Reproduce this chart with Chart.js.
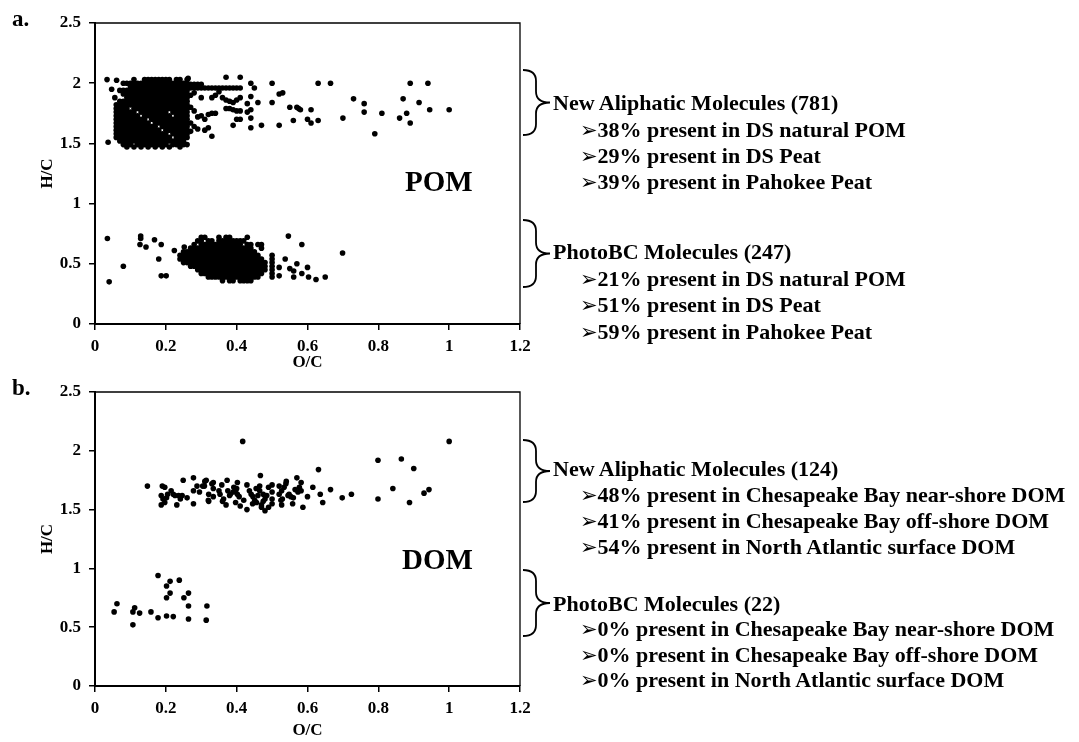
<!DOCTYPE html>
<html lang="en">
<head>
<meta charset="UTF-8" />
<title>New aliphatic and photoBC molecules - POM / DOM</title>
<style>
  body {
    margin: 0;
    width: 1079px;
    height: 742px;
    overflow: hidden;
    position: relative;
    background: #fff;
    color: #000;
    font-family: 'Liberation Serif', 'Times New Roman', serif;
    font-weight: bold;
  }
  canvas { position: absolute; left: 0; }
  #chartA { top: 0; }
  #chartB { top: 370px; }
  .lbl { position: absolute; white-space: nowrap; }
  .panel { font-size: 23px; line-height: 22px; }
  .big { font-size: 29px; line-height: 30px; }
  .note { font-size: 22px; line-height: 26px; }
  .arrow { font-family: 'DejaVu Sans', sans-serif; font-size: 21px; }
</style>
</head>
<body>
<canvas id="chartA" width="1079" height="380"></canvas>
<canvas id="chartB" width="1079" height="378"></canvas>
<div id="labels"></div>

<script src="https://cdn.jsdelivr.net/npm/chart.js"></script>
<script>
  // axes
  const xTicks = [0, 0.2, 0.4, 0.6, 0.8, 1, 1.2];
  const yTicks = [0, 0.5, 1, 1.5, 2, 2.5];

  // a. POM - new aliphatic molecules, dense block read as rows [H/C, [O/C ...]]
  const pomAliphaticRows = [
    [2.03, [0.11,0.14,0.15,0.16,0.17,0.18,0.19,0.20,0.21,0.23,0.24,0.26]],
    [2.00, [0.08,0.09,0.10,0.11,0.12,0.13,0.14,0.15,0.16,0.17,0.18,0.19,0.20,0.21,0.22,0.23,0.24,0.25,0.26]],
    [1.97, [0.10,0.11,0.12,0.13,0.14,0.15,0.16,0.17,0.18,0.19,0.20,0.21,0.22,0.23,0.24,0.25,0.26]],
    [1.94, [0.07,0.08,0.09,0.10,0.11,0.12,0.13,0.14,0.15,0.16,0.17,0.18,0.19,0.20,0.21,0.22,0.23,0.24,0.25,0.26]],
    [1.91, [0.08,0.09,0.10,0.11,0.12,0.13,0.14,0.15,0.16,0.17,0.18,0.19,0.20,0.21,0.22,0.23,0.24,0.25,0.26]],
    [1.88, [0.09,0.10,0.11,0.12,0.13,0.14,0.15,0.16,0.17,0.18,0.19,0.20,0.21,0.22,0.23,0.24,0.25,0.26]],
    [1.85, [0.07,0.08,0.09,0.10,0.11,0.12,0.13,0.14,0.15,0.16,0.17,0.18,0.19,0.20,0.21,0.22,0.23,0.24,0.25,0.26]],
    [1.82, [0.06,0.07,0.08,0.09,0.10,0.11,0.12,0.13,0.14,0.15,0.16,0.17,0.18,0.19,0.20,0.21,0.22,0.23,0.24,0.25,0.26]],
    [1.79, [0.06,0.07,0.08,0.09,0.11,0.12,0.13,0.14,0.15,0.16,0.17,0.18,0.19,0.20,0.21,0.22,0.23,0.24,0.25,0.26]],
    [1.76, [0.06,0.07,0.08,0.09,0.10,0.11,0.13,0.14,0.15,0.16,0.17,0.18,0.19,0.20,0.22,0.23,0.24,0.25,0.26]],
    [1.73, [0.06,0.07,0.08,0.09,0.10,0.11,0.12,0.14,0.15,0.16,0.17,0.18,0.19,0.20,0.21,0.23,0.24,0.25,0.26]],
    [1.70, [0.06,0.07,0.08,0.09,0.10,0.11,0.12,0.13,0.14,0.16,0.17,0.18,0.19,0.20,0.21,0.22,0.23,0.24,0.25,0.26]],
    [1.67, [0.06,0.07,0.08,0.09,0.10,0.11,0.12,0.13,0.14,0.15,0.17,0.18,0.19,0.20,0.21,0.22,0.23,0.24,0.25,0.26]],
    [1.64, [0.06,0.07,0.08,0.09,0.10,0.11,0.12,0.13,0.14,0.15,0.16,0.17,0.19,0.20,0.21,0.22,0.23,0.24,0.25,0.26]],
    [1.61, [0.06,0.07,0.08,0.09,0.10,0.11,0.12,0.13,0.14,0.15,0.16,0.17,0.18,0.20,0.21,0.22,0.23,0.24,0.25,0.26]],
    [1.58, [0.06,0.07,0.08,0.09,0.10,0.11,0.12,0.13,0.14,0.15,0.16,0.17,0.18,0.19,0.20,0.22,0.23,0.24,0.25,0.26]],
    [1.55, [0.06,0.07,0.08,0.09,0.10,0.11,0.12,0.13,0.14,0.15,0.16,0.17,0.18,0.19,0.20,0.21,0.23,0.24,0.25,0.26]],
    [1.52, [0.07,0.08,0.09,0.10,0.11,0.12,0.13,0.14,0.15,0.16,0.17,0.18,0.19,0.20,0.21,0.22,0.23,0.24,0.25]],
    [1.49, [0.08,0.09,0.10,0.12,0.13,0.14,0.15,0.16,0.17,0.18,0.19,0.20,0.22,0.23,0.24,0.25]],
    [1.47, [0.09,0.11,0.13,0.15,0.17,0.19,0.21,0.24]]
  ];
  // a. POM - new aliphatic molecules, scattered [O/C, H/C]
  const pomAliphaticPts = [
    [0.034,2.03],[0.061,2.025],[0.047,1.95],[0.056,1.88],[0.037,1.51],[0.263,2.04],
    [0.27,1.99],[0.28,1.99],[0.29,1.99],[0.30,1.99],
    [0.27,1.96],[0.28,1.96],[0.29,1.96],[0.30,1.96],[0.31,1.96],[0.32,1.96],[0.33,1.96],[0.34,1.96],
    [0.35,1.96],[0.36,1.96],[0.37,1.96],[0.38,1.96],[0.39,1.96],[0.40,1.96],[0.41,1.96],
    [0.27,1.90],[0.28,1.92],[0.30,1.88],[0.33,1.88],[0.34,1.90],[0.35,1.93],[0.36,1.88],
    [0.37,1.86],[0.38,1.85],[0.39,1.84],[0.40,1.86],[0.41,1.88],
    [0.27,1.80],[0.28,1.77],[0.29,1.72],[0.30,1.73],[0.31,1.70],[0.32,1.74],[0.33,1.75],[0.34,1.75],
    [0.37,1.79],[0.38,1.79],[0.39,1.78],[0.40,1.77],[0.41,1.77],[0.40,1.70],[0.41,1.70],[0.39,1.65],
    [0.27,1.67],[0.28,1.64],[0.29,1.62],[0.27,1.60],[0.31,1.61],[0.32,1.63],[0.33,1.56],[0.26,1.49],[0.25,1.51],
    [0.37,2.05],[0.41,2.05],[0.44,2.00],[0.45,1.96],[0.44,1.89],[0.43,1.83],[0.44,1.78],[0.43,1.76],
    [0.44,1.71],[0.44,1.63],[0.46,1.84],[0.47,1.65],[0.50,2.00],[0.50,1.84],[0.52,1.91],[0.53,1.92],
    [0.52,1.65],[0.55,1.80],[0.57,1.80],[0.575,1.79],[0.58,1.78],[0.56,1.69],[0.60,1.70],[0.61,1.78],
    [0.61,1.67],[0.63,2.00],[0.63,1.69],[0.665,2.00],[0.70,1.71],[0.73,1.87],[0.76,1.83],[0.76,1.76],
    [0.79,1.58],[0.81,1.75],[0.86,1.71],[0.87,1.87],[0.88,1.75],[0.89,2.00],[0.89,1.67],[0.915,1.84],
    [0.94,2.00],[0.945,1.78],[1.00,1.78]
  ];

  // a. POM - photoBC molecules, dense block rows [H/C, [O/C ...]]
  const pomPhotoRows = [
    [0.72, [0.30,0.31,0.35,0.37,0.38,0.43]],
    [0.69, [0.29,0.30,0.32,0.33,0.35,0.36,0.37,0.38,0.39,0.40,0.41,0.42]],
    [0.66, [0.28,0.30,0.31,0.32,0.33,0.34,0.35,0.36,0.37,0.38,0.39,0.40,0.41,0.43,0.44,0.46]],
    [0.63, [0.27,0.28,0.29,0.30,0.31,0.32,0.33,0.34,0.35,0.36,0.37,0.38,0.39,0.40,0.41,0.42,0.43,0.44,0.47]],
    [0.60, [0.25,0.26,0.27,0.28,0.29,0.30,0.31,0.32,0.33,0.34,0.35,0.36,0.37,0.38,0.39,0.40,0.41,0.42,0.43,0.44,0.45]],
    [0.57, [0.24,0.25,0.26,0.27,0.28,0.29,0.30,0.31,0.32,0.33,0.34,0.35,0.36,0.37,0.38,0.39,0.40,0.41,0.42,0.43,0.44,0.45,0.46]],
    [0.54, [0.24,0.25,0.26,0.27,0.28,0.29,0.30,0.31,0.32,0.33,0.34,0.35,0.36,0.37,0.38,0.39,0.40,0.41,0.42,0.43,0.44,0.45,0.46,0.47]],
    [0.51, [0.25,0.26,0.27,0.28,0.29,0.30,0.31,0.32,0.33,0.34,0.35,0.36,0.37,0.38,0.39,0.40,0.41,0.42,0.43,0.44,0.45,0.46,0.47,0.48]],
    [0.48, [0.27,0.28,0.29,0.30,0.31,0.32,0.33,0.34,0.35,0.36,0.37,0.38,0.39,0.40,0.41,0.42,0.43,0.44,0.45,0.46,0.47,0.48]],
    [0.45, [0.29,0.30,0.31,0.32,0.33,0.34,0.35,0.36,0.37,0.38,0.39,0.40,0.41,0.42,0.43,0.44,0.45,0.46,0.47,0.48]],
    [0.42, [0.30,0.31,0.32,0.33,0.34,0.35,0.36,0.37,0.38,0.39,0.40,0.41,0.42,0.43,0.44,0.45,0.46,0.47]],
    [0.39, [0.32,0.33,0.34,0.35,0.36,0.37,0.38,0.39,0.40,0.41,0.42,0.43,0.44,0.45,0.46]],
    [0.36, [0.36,0.38,0.39,0.41,0.42,0.43,0.44]]
  ];
  const pomPhotoPts = [
    [0.035,0.71],[0.04,0.35],[0.08,0.48],[0.129,0.73],[0.129,0.71],[0.127,0.66],[0.144,0.64],
    [0.168,0.70],[0.18,0.54],[0.187,0.66],[0.187,0.40],[0.201,0.40],[0.224,0.61],[0.252,0.64],
    [0.50,0.39],[0.50,0.42],[0.50,0.45],[0.50,0.48],[0.50,0.51],[0.50,0.54],[0.50,0.57],
    [0.52,0.47],[0.52,0.40],[0.537,0.54],[0.55,0.46],[0.561,0.44],[0.561,0.39],[0.57,0.50],
    [0.584,0.42],[0.60,0.47],[0.603,0.39],[0.624,0.37],[0.65,0.39],
    [0.546,0.73],[0.584,0.66],[0.699,0.59],[0.47,0.66],[0.46,0.55]
  ];

  // b. DOM - new aliphatic molecules [O/C, H/C]
  const domAliphaticPts = [
    [0.148,1.70],[0.19,1.70],[0.197,1.69],[0.187,1.62],[0.192,1.59],[0.197,1.56],[0.187,1.54],[0.202,1.60],
    [0.221,1.63],[0.226,1.62],[0.236,1.62],[0.241,1.59],[0.231,1.54],[0.249,1.75],[0.246,1.62],[0.26,1.60],
    [0.215,1.66],[0.205,1.63],
    [0.278,1.77],[0.278,1.66],[0.278,1.55],[0.288,1.70],[0.295,1.65],[0.304,1.70],[0.309,1.70],[0.31,1.74],
    [0.314,1.75],[0.321,1.63],[0.321,1.57],[0.32,1.58],[0.33,1.72],[0.334,1.73],[0.334,1.68],[0.334,1.61],
    [0.35,1.66],[0.358,1.71],[0.353,1.63],[0.36,1.57],[0.363,1.59],[0.373,1.75],[0.37,1.54],[0.375,1.66],
    [0.38,1.62],[0.382,1.63],[0.39,1.65],[0.392,1.69],[0.397,1.66],[0.40,1.68],[0.402,1.63],[0.407,1.61],
    [0.402,1.73],[0.397,1.56],[0.417,2.08],[0.42,1.58],[0.41,1.53],
    [0.429,1.71],[0.436,1.66],[0.441,1.63],[0.446,1.61],[0.429,1.50],[0.445,1.55],[0.451,1.58],[0.456,1.56],
    [0.455,1.68],[0.46,1.62],[0.467,1.79],[0.465,1.70],[0.465,1.66],[0.47,1.54],[0.47,1.52],[0.48,1.49],
    [0.48,1.59],[0.475,1.63],[0.475,1.57],[0.485,1.62],[0.49,1.52],[0.49,1.69],
    [0.50,1.71],[0.50,1.65],[0.50,1.59],[0.50,1.55],[0.52,1.63],[0.52,1.70],[0.525,1.58],[0.527,1.66],
    [0.527,1.54],[0.529,1.59],[0.534,1.69],[0.539,1.72],[0.54,1.74],[0.545,1.62],[0.548,1.63],[0.553,1.61],
    [0.558,1.55],[0.56,1.60],[0.565,1.67],[0.57,1.77],[0.573,1.65],[0.577,1.69],[0.582,1.73],[0.582,1.66],
    [0.587,1.52],[0.60,1.61],[0.615,1.69],[0.631,1.84],[0.636,1.63],[0.643,1.56],[0.665,1.67],[0.698,1.60],
    [0.724,1.63],[0.799,1.92],[0.799,1.59],[0.841,1.68],[0.865,1.93],[0.888,1.56],[0.90,1.85],[0.929,1.64],
    [0.943,1.67],[1.00,2.08]
  ];
  // b. DOM - photoBC molecules (22)
  const domPhotoPts = [
    [0.054,0.63],[0.062,0.70],[0.107,0.63],[0.112,0.665],[0.126,0.62],[0.107,0.52],[0.158,0.63],
    [0.178,0.94],[0.178,0.58],[0.202,0.85],[0.202,0.75],[0.202,0.595],[0.212,0.89],[0.212,0.79],
    [0.221,0.59],[0.238,0.90],[0.251,0.75],[0.264,0.79],[0.264,0.68],[0.264,0.57],[0.316,0.68],[0.314,0.56]
  ];

  // side notes
  const pomAliphaticNote = ['New Aliphatic Molecules (781)', '38% present in DS natural POM', '29% present in DS Peat', '39% present in Pahokee Peat'];
  const pomPhotoNote = ['PhotoBC Molecules (247)', '21% present in DS natural POM', '51% present in DS Peat', '59% present in Pahokee Peat'];
  const domAliphaticNote = ['New Aliphatic Molecules (124)', '48% present in Chesapeake Bay near-shore DOM', '41% present in Chesapeake Bay off-shore DOM', '54% present in North Atlantic surface DOM'];
  const domPhotoNote = ['PhotoBC Molecules (22)', '0% present in Chesapeake Bay near-shore DOM', '0% present in Chesapeake Bay off-shore DOM', '0% present in North Atlantic surface DOM'];

  const FONT = "'Liberation Serif', 'Times New Roman', serif";

  const fromRows = rows => rows.flatMap(([y, xs]) => xs.map(x => ({ x, y })));
  const fromPairs = pts => pts.map(([x, y]) => ({ x, y }));

  function drawBrace(ctx, x0, top, bot) {
    const xm = x0 + 13, xt = x0 + 27, mid = (top + bot) / 2, r = 11;
    ctx.beginPath();
    ctx.moveTo(x0, top);
    ctx.quadraticCurveTo(xm, top, xm, top + r);
    ctx.lineTo(xm, mid - r);
    ctx.quadraticCurveTo(xm, mid, xt, mid);
    ctx.quadraticCurveTo(xm, mid, xm, mid + r);
    ctx.lineTo(xm, bot - r);
    ctx.quadraticCurveTo(xm, bot, x0, bot);
    ctx.stroke();
  }

  // thin top/right frame + the braces to the right of the plot
  const framePlugin = {
    id: 'frame',
    afterDraw(chart, args, opts) {
      const { ctx, chartArea: a } = chart;
      ctx.save();
      ctx.strokeStyle = '#000';
      ctx.lineWidth = 1.3;
      ctx.beginPath();
      ctx.moveTo(a.left, a.top);
      ctx.lineTo(a.right, a.top);
      ctx.lineTo(a.right, a.bottom);
      ctx.stroke();
      ctx.lineWidth = 1.8;
      (opts.braces || []).forEach(([t, b]) => drawBrace(ctx, a.right + 3, t, b));
      ctx.restore();
    }
  };

  function axis(ticks, title, fit) {
    return {
      type: 'linear',
      min: ticks[0],
      max: ticks[ticks.length - 1],
      afterBuildTicks: s => { s.ticks = ticks.map(v => ({ value: v })); },
      afterFit: fit,
      ticks: {
        color: '#000',
        font: { family: FONT, weight: 'bold', size: 17 },
        callback: v => String(v),
        maxRotation: 0
      },
      grid: { drawOnChartArea: false, drawTicks: true, tickLength: 6, color: '#000', lineWidth: 1.5 },
      border: { display: true, color: '#000', width: 2 },
      title: {
        display: true, text: title, color: '#000',
        font: { family: FONT, weight: 'bold', size: 17 },
        padding: { top: 3, bottom: 3 }
      }
    };
  }

  function makeChart(id, datasets, padTop, xAxisH, braces) {
    const x = axis(xTicks, 'O/C', s => { s.height = xAxisH; });
    x.ticks.padding = 6;
    const y = axis(yTicks, 'H/C', s => { s.width = 61; });
    y.ticks.padding = 8;
    return new Chart(document.getElementById(id), {
      type: 'scatter',
      data: { datasets },
      options: {
        responsive: false,
        animation: false,
        devicePixelRatio: 1,
        layout: { padding: { left: 34, top: padTop, right: 1079 - 520, bottom: 4 } },
        plugins: { legend: { display: false }, tooltip: { enabled: false }, frame: { braces } },
        scales: { x, y }
      },
      plugins: [framePlugin]
    });
  }

  const dot = { pointRadius: 2.8, pointHoverRadius: 2.8, backgroundColor: '#000', borderWidth: 0 };

  makeChart('chartA', [
    { label: 'New aliphatic', data: fromRows(pomAliphaticRows).concat(fromPairs(pomAliphaticPts)), ...dot },
    { label: 'PhotoBC', data: fromRows(pomPhotoRows).concat(fromPairs(pomPhotoPts)), ...dot }
  ], 23, 52, [[70, 135], [220, 287]]);

  makeChart('chartB', [
    { label: 'New aliphatic', data: fromPairs(domAliphaticPts), ...dot },
    { label: 'PhotoBC', data: fromPairs(domPhotoPts), ...dot }
  ], 22, 58, [[70, 132], [200, 266]]);

  // text laid over the canvases
  const holder = document.getElementById('labels');
  function put(cls, text, left, top) {
    const d = document.createElement('div');
    d.className = 'lbl ' + cls;
    d.style.left = left + 'px';
    d.style.top = top + 'px';
    d.textContent = text;
    holder.appendChild(d);
    return d;
  }
  function note(lines, centers) {
    lines.forEach((t, i) => {
      if (i === 0) {
        put('note', t, 553, centers[i] - 13);
      } else {
        const d = put('note', '', 580, centers[i] - 13);
        const a = document.createElement('span');
        a.className = 'arrow';
        a.textContent = '\u27A2';
        d.appendChild(a);
        d.appendChild(document.createTextNode(t));
      }
    });
  }

  put('panel', 'a.', 12, 8);
  put('panel', 'b.', 12, 377);
  put('big', 'POM', 405, 166);
  put('big', 'DOM', 402, 544);

  note(pomAliphaticNote, [103, 130, 156, 182]);
  note(pomPhotoNote, [252, 279, 305, 332]);
  note(domAliphaticNote, [469, 495, 521, 547]);
  note(domPhotoNote, [604, 629, 655, 680]);
</script>
</body>
</html>
